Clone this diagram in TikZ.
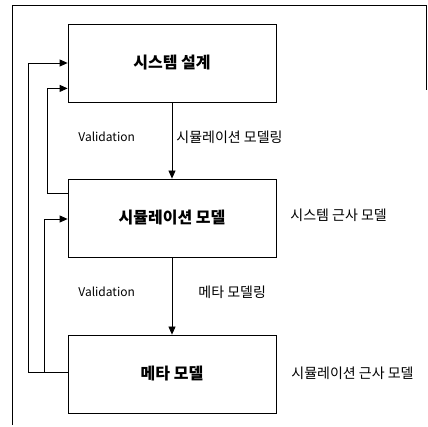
\documentclass[tikz,border=0pt]{standalone}
\usepackage{fontspec}
\setmainfont{Noto Sans CJK KR}
\usetikzlibrary{arrows.meta,calc}
\begin{document}
\begin{tikzpicture}[x=1pt,y=-1pt,
  line width=0.8pt,
  box/.style={draw, minimum width=208pt, minimum height=78pt, inner sep=0pt, font=\fontsize{16}{18}\selectfont\bfseries},
  lbl/.style={font=\fontsize{14}{16}\selectfont, inner sep=0pt, anchor=west},
  vlbl/.style={font=\fontsize{12}{14}\selectfont, inner sep=0pt, anchor=west},
  arr/.style={-{Triangle[length=8pt,width=7pt]}}]
\useasboundingbox (0,0) rectangle (428,427);
% outer frame
\coordinate (fa) at (12,425);
\coordinate (fb) at (12,5);
\coordinate (fc) at (426.5,5);
\coordinate (fd) at (426.5,90);
\draw (fa) -- (fb) -- (fc) -- (fd);
% boxes
\node[box] (b1) at (172,63) {시스템 설계};
\node[box] (b2) at (172,218) {시뮬레이션 모델};
\node[box] (b3) at (172,374) {메타 모델};
% forward arrows
\draw[arr] (b1.south) -- (b2.north);
\draw[arr] (b2.south) -- (b3.north);
% feedback lines
\coordinate (x1) at (28,0);
\coordinate (x2) at (44,0);
\coordinate (x3) at (47,0);
\draw[arr] ([yshift=2pt]b3.west) -- ([yshift=2pt]b3.west -| x1) |- (b1.west);
\draw[arr] ([yshift=2pt]b3.west -| x2) |- ([yshift=-1pt]b2.west);
\coordinate (s2) at ([yshift=-15pt]b2.north west);
\coordinate (t1) at ([yshift=14pt]b1.south west);
\draw[arr] (s2) -- (s2 -| x3) |- (t1);
% labels
\node[vlbl] (v1) at (78,137) {Validation};
\node[lbl] (m1) at (176,137) {시뮬레이션 모델링};
\node[vlbl] (v2) at (78,292) {Validation};
\node[lbl] (m2) at (198,292) {메타 모델링};
\node[lbl] (a1) at (290,215) {시스템 근사 모델};
\node[lbl] (a2) at (291,373) {시뮬레이션 근사 모델};
\end{tikzpicture}
\end{document}
